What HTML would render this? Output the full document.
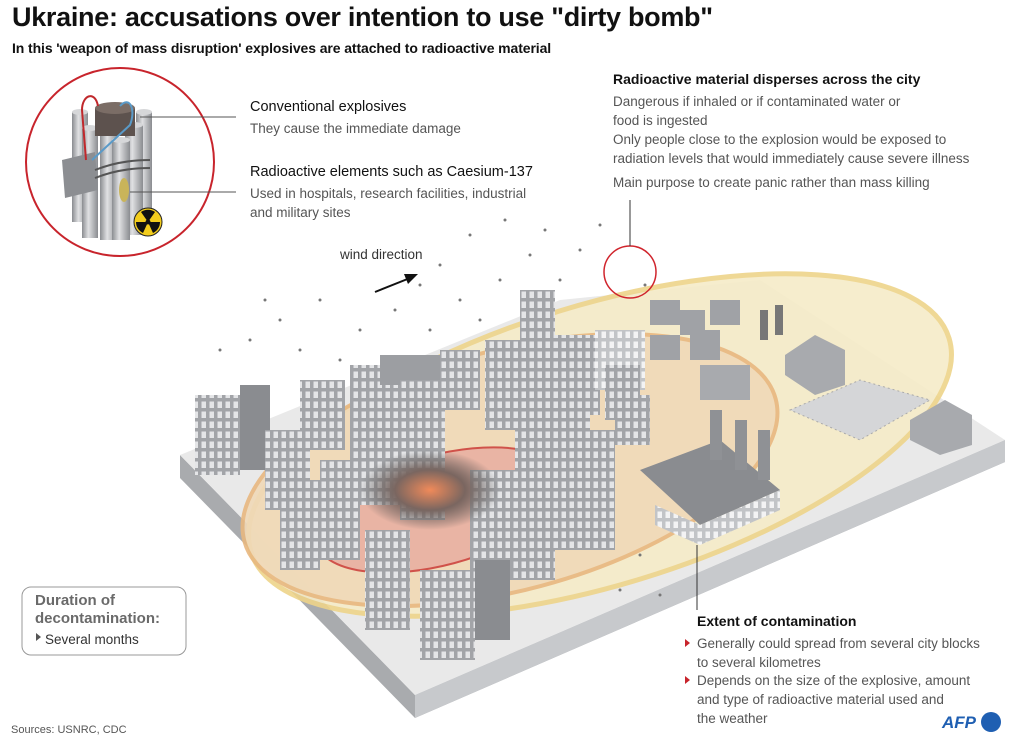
<!DOCTYPE html>
<html><head><meta charset="utf-8"><style>
body{margin:0;width:1024px;height:745px;background:#fff;font-family:"Liberation Sans",sans-serif;position:relative;overflow:hidden;color:#222}
.t{position:absolute;white-space:nowrap}
h1{position:absolute;left:12px;top:2px;margin:0;font-size:27px;font-weight:bold;color:#111;letter-spacing:-0.3px}
.sub{left:12px;top:40px;font-size:14px;font-weight:bold;color:#111;letter-spacing:-0.1px}
.hd{font-size:14.5px;color:#111}
.bd{font-size:13.5px;color:#555;line-height:19px}
</style></head><body>
<svg width="1024" height="745" style="position:absolute;left:0;top:0">
<defs>
<pattern id="win" width="8" height="10" patternUnits="userSpaceOnUse"><rect width="8" height="10" fill="#a2a4a8"/><rect x="1.5" y="1.5" width="4.5" height="6.5" fill="#e4e5e7"/></pattern>
<pattern id="win2" width="8" height="10" patternUnits="userSpaceOnUse"><rect width="8" height="10" fill="#c2c4c7"/><rect x="1.5" y="1.5" width="4.5" height="6.5" fill="#f3f3f4"/></pattern>
<radialGradient id="fire" cx="0.5" cy="0.5" r="0.5"><stop offset="0" stop-color="#f08a5a"/><stop offset="0.5" stop-color="#7a6660"/><stop offset="1" stop-color="#555" stop-opacity="0"/></radialGradient>
<linearGradient id="cyl" x1="0" x2="1"><stop offset="0" stop-color="#8a8c90"/><stop offset="0.4" stop-color="#e0e1e3"/><stop offset="1" stop-color="#8a8c90"/></linearGradient>
</defs>
<!-- slab -->
<polygon points="180,455 415,695 1005,440 1005,462 415,718 180,478" fill="#a9abae"/>
<polygon points="415,695 1005,440 1005,462 415,718" fill="#c7c9cc"/>
<polygon points="180,455 560,300 760,280 1005,440 415,695" fill="#e9e9e9"/>
<!-- ellipses -->
<ellipse cx="600" cy="445" rx="365" ry="140" transform="rotate(-17 600 445)" fill="#f6ecc8" stroke="#eed48a" stroke-width="5" opacity="0.9"/>
<ellipse cx="510" cy="470" rx="275" ry="120" transform="rotate(-15 510 470)" fill="#f0d9b8" stroke="#e8b880" stroke-width="4" opacity="0.9"/>
<ellipse cx="440" cy="510" rx="128" ry="55" transform="rotate(-15 440 510)" fill="#e9b4a4" stroke="#d0524a" stroke-width="2"/>
<!-- buildings -->
<g>
<rect x="195" y="395" width="45" height="80" fill="url(#win)"/><rect x="240" y="385" width="30" height="85" fill="#8a8c90"/>
<rect x="300" y="380" width="45" height="70" fill="url(#win)"/>
<rect x="350" y="365" width="50" height="140" fill="url(#win)"/>
<rect x="380" y="355" width="60" height="30" fill="#9c9ea2"/>
<rect x="400" y="380" width="45" height="140" fill="url(#win)"/>
<rect x="440" y="350" width="40" height="60" fill="url(#win)"/>
<rect x="485" y="340" width="45" height="90" fill="url(#win)"/>
<rect x="520" y="290" width="35" height="140" fill="url(#win)"/>
<rect x="555" y="335" width="45" height="80" fill="url(#win)"/>
<rect x="595" y="330" width="50" height="60" fill="url(#win2)"/>
<rect x="605" y="365" width="35" height="55" fill="url(#win)"/>
<rect x="615" y="395" width="35" height="50" fill="url(#win)"/>
<rect x="265" y="430" width="45" height="80" fill="url(#win)"/>
<rect x="280" y="480" width="40" height="90" fill="url(#win)"/>
<rect x="320" y="460" width="40" height="100" fill="url(#win)"/>
<rect x="470" y="470" width="45" height="110" fill="url(#win)"/>
<rect x="515" y="430" width="40" height="150" fill="url(#win)"/>
<rect x="545" y="400" width="45" height="150" fill="url(#win)"/>
<rect x="575" y="430" width="40" height="120" fill="url(#win)"/>
<rect x="365" y="530" width="45" height="100" fill="url(#win)"/>
<rect x="420" y="570" width="55" height="90" fill="url(#win)"/>
<rect x="475" y="560" width="35" height="80" fill="#8a8c90"/>
<!-- factory -->
<polygon points="640,470 720,440 780,490 700,525" fill="#8a8c90"/>
<polygon points="655,525 700,545 780,510 780,490 700,525 655,505" fill="url(#win2)"/>
<rect x="710" y="410" width="12" height="50" fill="#8f9195"/><rect x="735" y="420" width="12" height="50" fill="#8f9195"/><rect x="758" y="430" width="12" height="50" fill="#8f9195"/>
<!-- houses -->
<rect x="650" y="300" width="30" height="25" fill="#a0a2a6"/><rect x="680" y="310" width="25" height="25" fill="#a0a2a6"/>
<rect x="710" y="300" width="30" height="25" fill="#a0a2a6"/>
<rect x="650" y="335" width="30" height="25" fill="#a0a2a6"/><rect x="690" y="330" width="30" height="30" fill="#a0a2a6"/>
<rect x="700" y="365" width="50" height="35" fill="#a8aaae"/>
<rect x="760" y="310" width="8" height="30" fill="#777"/><rect x="775" y="305" width="8" height="30" fill="#777"/>
<polygon points="785,355 815,335 845,350 845,385 815,395 785,375" fill="#a8aaae"/>
<polygon points="910,420 945,400 972,415 972,445 940,455 910,440" fill="#a8aaae"/>
<polygon points="790,410 860,380 930,400 860,440" fill="#d5d6d8" stroke="#aaa" stroke-dasharray="2 3"/>
<ellipse cx="430" cy="490" rx="70" ry="40" fill="url(#fire)"/>
</g>
<!-- particles -->
<g fill="#777">
<circle cx="470" cy="235" r="1.5"/><circle cx="505" cy="220" r="1.5"/><circle cx="440" cy="265" r="1.5"/><circle cx="420" cy="285" r="1.5"/><circle cx="460" cy="300" r="1.5"/><circle cx="500" cy="280" r="1.5"/><circle cx="530" cy="255" r="1.5"/><circle cx="545" cy="230" r="1.5"/><circle cx="395" cy="310" r="1.5"/><circle cx="360" cy="330" r="1.5"/><circle cx="320" cy="300" r="1.5"/><circle cx="280" cy="320" r="1.5"/><circle cx="250" cy="340" r="1.5"/><circle cx="220" cy="350" r="1.5"/><circle cx="300" cy="350" r="1.5"/><circle cx="340" cy="360" r="1.5"/><circle cx="580" cy="250" r="1.5"/><circle cx="600" cy="225" r="1.5"/><circle cx="560" cy="280" r="1.5"/><circle cx="430" cy="330" r="1.5"/><circle cx="480" cy="320" r="1.5"/><circle cx="265" cy="300" r="1.5"/><circle cx="645" cy="285" r="1.5"/><circle cx="620" cy="590" r="1.5"/><circle cx="640" cy="555" r="1.5"/><circle cx="660" cy="595" r="1.5"/>
</g>
<circle cx="630" cy="272" r="26" fill="none" stroke="#d0252d" stroke-width="1.5"/>
<line x1="630" y1="246" x2="630" y2="200" stroke="#333"/>
<line x1="697" y1="545" x2="697" y2="610" stroke="#333"/>
<!-- wind arrow -->
<line x1="375" y1="292" x2="410" y2="278" stroke="#111" stroke-width="2"/><polygon points="418,274 404,274 408,284" fill="#111"/>
<!-- bomb -->
<circle cx="120" cy="162" r="94" fill="#fff" stroke="#c8242c" stroke-width="2"/>
<g fill="url(#cyl)">
<rect x="72" y="112" width="16" height="110"/><rect x="136" y="112" width="16" height="110"/><rect x="82" y="128" width="16" height="110"/><rect x="125" y="125" width="18" height="110"/><rect x="100" y="130" width="18" height="110"/><rect x="112" y="140" width="18" height="100"/>
</g>
<g fill="#d6d7d9"><ellipse cx="80" cy="112" rx="8" ry="3"/><ellipse cx="144" cy="112" rx="8" ry="3"/><ellipse cx="90" cy="128" rx="8" ry="3"/><ellipse cx="134" cy="125" rx="9" ry="3"/><ellipse cx="109" cy="130" rx="9" ry="3"/><ellipse cx="121" cy="140" rx="9" ry="3"/></g>
<rect x="95" y="108" width="40" height="28" fill="#5d524e"/><ellipse cx="115" cy="108" rx="20" ry="6" fill="#7b6d66"/>
<polygon points="62,160 95,152 98,190 65,198" fill="#8c8e92"/>
<path d="M98 106 C95 90,82 95,82 110 L86 160" fill="none" stroke="#c0282c" stroke-width="2"/>
<path d="M120 106 C130 95,136 110,130 125 L92 160" fill="none" stroke="#5a9ac8" stroke-width="2"/>
<path d="M95 170 Q120 160 150 160 M95 178 Q120 168 150 168" fill="none" stroke="#555" stroke-width="2"/>
<ellipse cx="124" cy="190" rx="5" ry="12" fill="#c9b45a"/>
<circle cx="148" cy="222" r="14" fill="#f3cd1d" stroke="#222"/>
<path d="M148 222 L141 212 A12 12 0 0 1 155 212 Z M148 222 L160 222 A12 12 0 0 1 153 233 Z M148 222 L143 233 A12 12 0 0 1 136 222 Z" fill="#111"/>
<circle cx="148" cy="222" r="2.5" fill="#111"/>
<line x1="140" y1="117" x2="236" y2="117" stroke="#555"/>
<line x1="130" y1="192" x2="236" y2="192" stroke="#555"/>
<!-- legend box -->
<rect x="22" y="587" width="164" height="68" rx="9" fill="#fff" stroke="#999"/>
<polygon points="36,633 36,641 41,637" fill="#555"/>
<polygon points="685,639 685,647 690,643" fill="#c8242c"/>
<polygon points="685,676 685,684 690,680" fill="#c8242c"/>
<circle cx="991" cy="722" r="10" fill="#1f5fb2"/>
</svg>
<h1>Ukraine: accusations over intention to use "dirty bomb"</h1>
<div class="t sub">In this 'weapon of mass disruption' explosives are attached to radioactive material</div>
<div class="t hd" style="left:250px;top:99px">Conventional explosives</div>
<div class="t bd" style="left:250px;top:119px">They cause the immediate damage</div>
<div class="t hd" style="left:250px;top:164px">Radioactive elements such as Caesium-137</div>
<div class="t bd" style="left:250px;top:184px">Used in hospitals, research facilities, industrial<br>and military sites</div>
<div class="t bd" style="left:340px;top:245px;color:#333">wind direction</div>
<div class="t hd" style="left:613px;top:71px;font-weight:bold;font-size:14px">Radioactive material disperses across the city</div>
<div class="t bd" style="left:613px;top:92px">Dangerous if inhaled or if contaminated water or<br>food is ingested<br>Only people close to the explosion would be exposed to<br>radiation levels that would immediately cause severe illness</div>
<div class="t bd" style="left:613px;top:173px">Main purpose to create panic rather than mass killing</div>
<div class="t hd" style="left:697px;top:613px;font-weight:bold;font-size:14px">Extent of contamination</div>
<div class="t bd" style="left:697px;top:634px">Generally could spread from several city blocks<br>to several kilometres</div>
<div class="t bd" style="left:697px;top:671px">Depends on the size of the explosive, amount<br>and type of radioactive material used and<br>the weather</div>
<div class="t" style="left:35px;top:592px;font-size:15px;font-weight:bold;color:#6a6a6a;line-height:18px">Duration of<br>decontamination:</div>
<div class="t bd" style="left:45px;top:630px;color:#333">Several months</div>
<div class="t" style="left:11px;top:724px;font-size:11px;color:#555">Sources: USNRC, CDC</div>
<div class="t" style="left:942px;top:713px;font-size:17px;font-weight:bold;font-style:italic;color:#1f5fb2">AFP</div>
</body></html>
